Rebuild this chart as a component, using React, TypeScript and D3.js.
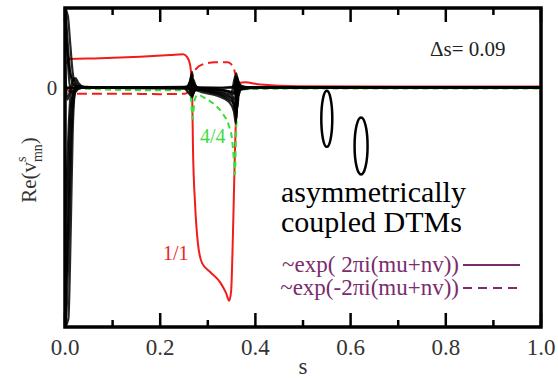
import React from "react";
import * as d3 from "d3";

const W = 558, H = 378;
const X0 = 65, X1 = 541, Y0 = 8, Y1 = 327;

const xTicksMajor = [0, 0.2, 0.4, 0.6, 0.8, 1.0];
const xTicksMinor = [0.1, 0.3, 0.5, 0.7, 0.9];
const xTickLabels = ["0.0", "0.2", "0.4", "0.6", "0.8", "1.0"];

type P = [number, number];

const red11: P[] = [[0.002, 0.3], [0.008, 0.36], [0.074, 0.37], [0.158, 0.39], [0.221, 0.41], [0.248, 0.42], [0.256, 0.39], [0.263, 0.28], [0.267, -0.04], [0.269, -0.8], [0.273, -1.43], [0.279, -1.94], [0.288, -2.2], [0.305, -2.31], [0.326, -2.44], [0.338, -2.57], [0.345, -2.67], [0.349, -2.55], [0.353, -1.8], [0.357, -0.8], [0.361, -0.16], [0.366, 0.06], [0.378, 0.07], [0.41, 0.04], [0.49, 0.02], [0.8, 0.015], [1.0, 0.015]];

const redDash: P[] = [[0.0, 0.02], [0.01, -0.05], [0.02, -0.075], [0.12, -0.075], [0.2, -0.08], [0.252, -0.075], [0.26, -0.04], [0.267, 0.14], [0.276, 0.24], [0.288, 0.29], [0.315, 0.32], [0.342, 0.32], [0.35, 0.29], [0.357, 0.19], [0.361, 0.04], [0.368, 0.01], [0.5, 0.0], [1.0, 0.0]];

const green44: P[] = [[0.0, 0.0], [0.16, -0.03], [0.258, -0.03], [0.264, -0.1], [0.268, -0.39], [0.272, -0.16], [0.279, -0.09], [0.294, -0.13], [0.315, -0.215], [0.332, -0.33], [0.344, -0.47], [0.351, -0.65], [0.355, -0.92], [0.357, -1.09], [0.359, -0.67], [0.363, -0.1], [0.372, -0.02], [0.5, -0.01], [1.0, -0.01]];

const blackA: P[] = [[0, 1.0], [0.003, 0.8], [0.007, 0.45], [0.011, 0.2], [0.016, 0.06], [0.025, 0.01], [0.08, 0], [0.2, 0], [0.258, 0.005], [0.264, 0.05], [0.267, 0.2], [0.27, 0.04], [0.28, 0.005], [0.33, 0], [0.352, 0.01], [0.357, 0.06], [0.36, 0.18], [0.363, 0.05], [0.37, 0.01], [0.4, 0], [1, 0]];
const blackB: P[] = [[0, -3], [0.003, -2.3], [0.006, -1.3], [0.009, -0.6], [0.013, -0.2], [0.02, -0.03], [0.04, 0], [0.25, 0], [0.262, -0.02], [0.267, -0.12], [0.272, -0.03], [0.29, -0.06], [0.32, -0.1], [0.345, -0.18], [0.355, -0.3], [0.359, -0.45], [0.362, -0.15], [0.37, -0.02], [0.42, 0], [1, 0]];
const blackC: P[] = [[0, -3], [0.004, -2.7], [0.008, -1.9], [0.012, -0.9], [0.016, -0.3], [0.022, -0.05], [0.035, 0], [0.25, 0.01], [0.263, 0.04], [0.266, 0.14], [0.269, -0.08], [0.274, -0.02], [0.3, -0.04], [0.33, -0.07], [0.35, -0.12], [0.357, -0.22], [0.36, -0.35], [0.363, 0.1], [0.367, 0.02], [0.4, 0.005], [1, 0]];
const blackD: P[] = [[0, 0.7], [0.005, 0.45], [0.01, 0.2], [0.015, 0.12], [0.02, 0.1], [0.025, 0.05], [0.035, 0.01], [0.1, 0], [0.255, 0], [0.264, 0.08], [0.267, -0.06], [0.27, 0.1], [0.275, 0.01], [0.31, -0.02], [0.34, -0.04], [0.355, -0.08], [0.359, 0.12], [0.362, -0.25], [0.366, -0.03], [0.39, 0], [1, 0]];
const blackE: P[] = [[0, -1.8], [0.004, -1.1], [0.008, -0.45], [0.012, -0.08], [0.018, 0.04], [0.03, 0.0], [0.2, 0.0], [0.26, 0], [0.265, -0.09], [0.268, 0.1], [0.272, -0.02], [0.3, -0.02], [0.33, -0.03], [0.35, -0.05], [0.358, 0.15], [0.361, -0.3], [0.365, 0.04], [0.38, 0], [0.6, 0], [1, 0]];
const blackF: P[] = [[0, 0.95], [0.004, 0.55], [0.008, 0.15], [0.013, -0.05], [0.02, -0.02], [0.04, 0], [0.24, 0], [0.26, 0.01], [0.266, 0.17], [0.268, -0.1], [0.272, -0.01], [0.29, -0.03], [0.31, -0.06], [0.33, -0.1], [0.345, -0.15], [0.355, -0.2], [0.36, -0.4], [0.364, 0.08], [0.37, 0.005], [1, 0]];
const blackG: P[] = [[0, -2.5], [0.005, -2.1], [0.009, -1.2], [0.013, -0.4], [0.018, -0.05], [0.028, 0.02], [0.05, 0], [0.258, 0], [0.265, 0.12], [0.268, -0.05], [0.28, -0.01], [0.32, -0.02], [0.355, -0.06], [0.36, 0.1], [0.364, -0.1], [0.37, 0], [1, 0]];
const blackH: P[] = [[0, 0.3], [0.005, -0.15], [0.01, -0.05], [0.016, 0.08], [0.022, 0.12], [0.028, 0.06], [0.04, 0.01], [0.25, -0.005], [0.266, -0.1], [0.27, 0.06], [0.28, -0.02], [0.3, -0.05], [0.33, -0.09], [0.35, -0.14], [0.358, -0.28], [0.362, 0.14], [0.366, 0], [1, 0]];
const blackI: P[] = [[0, 1.0], [0.006, 0.9], [0.011, 0.55], [0.016, 0.2], [0.021, 0.05], [0.03, 0.0], [0.262, 0.0], [0.266, 0.1], [0.27, 0.0], [0.356, 0.0], [0.36, -0.2], [0.365, 0.0], [1, 0.0]];
const blackJ: P[] = [[0, -3], [0.007, -2.9], [0.012, -1.8], [0.016, -0.6], [0.02, -0.1], [0.026, 0.0], [0.263, -0.01], [0.267, -0.08], [0.271, 0.0], [0.3, -0.03], [0.35, -0.09], [0.358, -0.15], [0.362, 0.05], [0.37, 0.0], [1, 0.005]];
const blackCurves = [blackA, blackB, blackC, blackD, blackE, blackF, blackG, blackH, blackI, blackJ];

const ellipses: P[] = [[0.55, -0.39], [0.622, -0.73]];

const FONT = "Liberation Serif";
const RED = "#f21c1c";
const GREEN = "#3fdc3f";
const PURPLE = "#7a2c6c";

const tStyle = { fontFamily: FONT };

export default function App() {
  const x = d3.scaleLinear().domain([0, 1]).range([X0, X1]);
  const y = d3.scaleLinear().domain([-3, 1]).range([Y1, Y0]);
  const line = d3.line<P>().x(d => x(d[0])).y(d => y(d[1])).curve(d3.curveMonotoneX);
  const y0 = y(0);

  return (
    <svg width={W} height={H} style={{ position: "absolute", left: 0, top: 0, background: "#fff" }}>
      <defs>
        <clipPath id="plot">
          <rect x={X0} y={Y0} width={X1 - X0} height={Y1 - Y0} />
        </clipPath>
      </defs>
      <g clipPath="url(#plot)" fill="none">
        <path d={line(red11) || ""} stroke={RED} strokeWidth={2} />
        <path d={line(redDash) || ""} stroke={RED} strokeWidth={2} strokeDasharray="10,5" />
        <path d={line(green44) || ""} stroke={GREEN} strokeWidth={2} strokeDasharray="6,4" />
        {blackCurves.map((c, i) => (
          <path key={i} d={line(c) || ""} stroke="#000" strokeWidth={2.2} strokeOpacity={0.85} />
        ))}
      </g>
      <ellipse cx={x(ellipses[0][0])} cy={y(ellipses[0][1])} rx={5.5} ry={28} fill="none" stroke="#000" strokeWidth={2.5} />
      <ellipse cx={x(ellipses[1][0])} cy={y(ellipses[1][1])} rx={6.5} ry={28.5} fill="none" stroke="#000" strokeWidth={2.5} />
      <rect x={X0} y={Y0} width={X1 - X0} height={Y1 - Y0} fill="none" stroke="#000" strokeWidth={3.5} />
      <g stroke="#000" strokeWidth={2.5}>
        {xTicksMajor.map((t, i) => (
          <g key={"M" + i}>
            <line x1={x(t)} x2={x(t)} y1={Y1} y2={Y1 - 14} />
            <line x1={x(t)} x2={x(t)} y1={Y0} y2={Y0 + 14} />
          </g>
        ))}
        {xTicksMinor.map((t, i) => (
          <g key={"m" + i}>
            <line x1={x(t)} x2={x(t)} y1={Y1} y2={Y1 - 7} />
            <line x1={x(t)} x2={x(t)} y1={Y0} y2={Y0 + 7} />
          </g>
        ))}
        <line x1={X0} x2={X0 + 14} y1={y0} y2={y0} />
        <line x1={X1} x2={X1 - 14} y1={y0} y2={y0} />
      </g>
      {xTicksMajor.map((t, i) => (
        <text key={"l" + i} x={x(t)} y={355} fontSize={23} textAnchor="middle" fill="#333" style={tStyle}>{xTickLabels[i]}</text>
      ))}
      <text x={(X0 + X1) / 2} y={374} fontSize={23} textAnchor="middle" fill="#333" style={tStyle}>s</text>
      <text x={52} y={y0 + 7} fontSize={21} textAnchor="middle" fill="#333" style={tStyle}>0</text>
      <text transform="translate(36,170) rotate(-90)" fontSize={21} textAnchor="middle" fill="#333" style={tStyle}>
        Re(v<tspan fontSize={14} dy={-10}>s</tspan><tspan fontSize={14} dx={-5.5} dy={16}>mn</tspan><tspan dy={-6}>)</tspan>
      </text>
      <text x={430} y={56} fontSize={21} fill="#222" style={tStyle}>Δs= 0.09</text>
      <text x={200} y={143} fontSize={20} fill={GREEN} style={tStyle}>4/4</text>
      <text x={163} y={260} fontSize={20} fill={RED} style={tStyle}>1/1</text>
      <text x={281} y={202} fontSize={30} fill="#000" style={tStyle}>asymmetrically</text>
      <text x={281} y={232} fontSize={30} fill="#000" style={tStyle}>coupled DTMs</text>
      <text x={459} y={272} fontSize={23} textAnchor="end" fill={PURPLE} style={tStyle}>~exp( 2πi(mu+nv))</text>
      <text x={459} y={295} fontSize={23} textAnchor="end" fill={PURPLE} style={tStyle}>~exp(-2πi(mu+nv))</text>
      <line x1={463} x2={520} y1={265} y2={265} stroke={PURPLE} strokeWidth={2} />
      <line x1={463} x2={520} y1={288} y2={288} stroke={PURPLE} strokeWidth={2} strokeDasharray="9,6" />
    </svg>
  );
}
